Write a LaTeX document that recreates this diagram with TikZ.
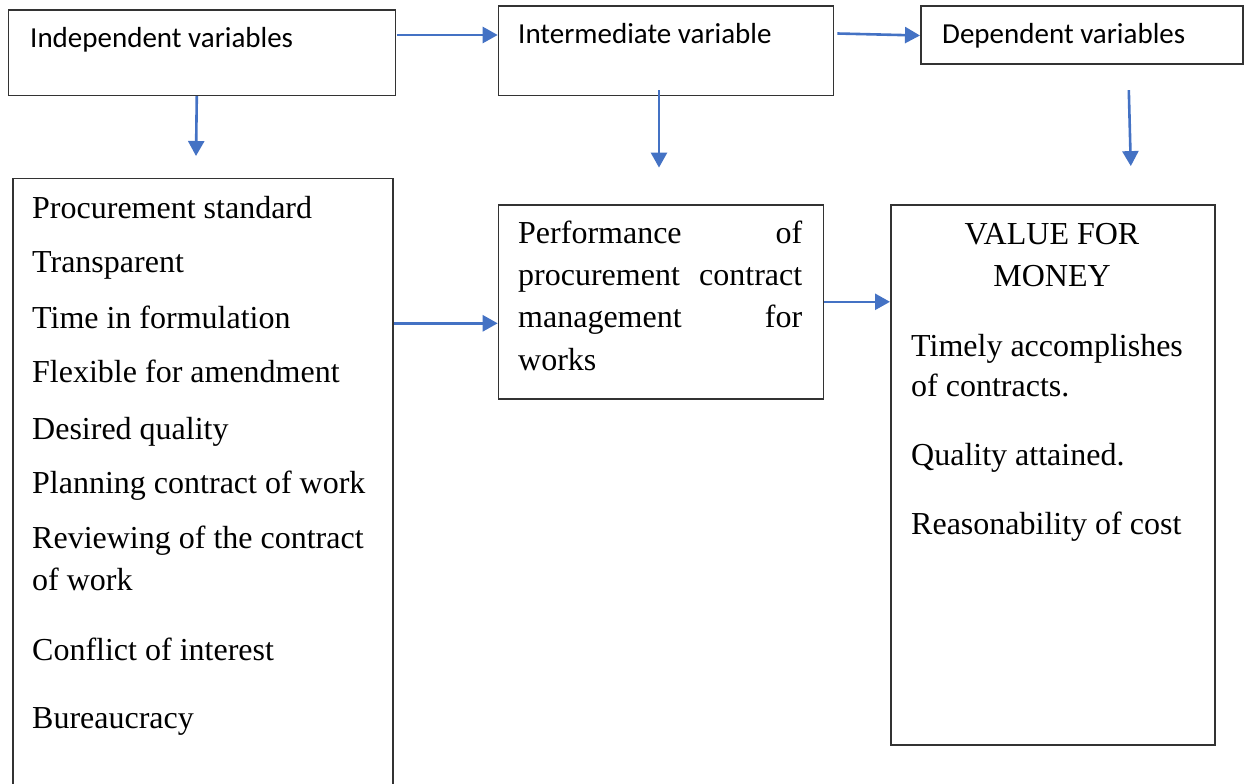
\documentclass[tikz,border=0pt]{standalone}
\usepackage{fontspec}
\setmainfont{Liberation Serif}
\newfontfamily\headfont{Carlito}
\usetikzlibrary{arrows.meta,positioning}
\definecolor{wordblue}{HTML}{4472C4}
\tikzset{
    x=1pt, y=-1pt,
    >={Triangle[length=15pt,width=16pt]},
    box/.style={draw=black!80, line width=1.6pt, inner sep=0pt, anchor=north west},
    head/.style={inner sep=0pt, anchor=base west, font=\headfont\fontsize{29}{34}\selectfont},
    item/.style={inner sep=0pt, anchor=base west, font=\fontsize{32}{38}\selectfont},
    arr/.style={->, draw=wordblue, line width=2.6pt},
}

\begin{document}
\begin{tikzpicture}
        \useasboundingbox (0,0) rectangle (1248,784);
        % top row
        \node[box, minimum width=387pt, minimum height=85pt] (indep) at (7.5,9.5) {};
        \node[box, minimum width=335pt, minimum height=89pt] (inter) at (497.7,5.5) {};
        \node[box, minimum width=322pt, minimum height=58pt] (dep) at (920,5.5) {};
        \node[head] (indeptxt) at (30,48) {Independent variables};
        \node[head] (intertxt) at (518,44) {Intermediate variable};
        \node[head] (deptxt) at (942,44) {Dependent variables};
        % lower row
        \node[box, minimum width=380pt, minimum height=640pt] (lst) at (12,177.5) {};
        \node[box, minimum width=325pt, minimum height=194pt] (perf) at (497.7,204) {};
        \node[box, minimum width=324pt, minimum height=540pt] (val) at (890,204) {};
        \foreach \yy/\lbl [count=\i] in {218/Procurement standard, 272/Transparent,
            328/Time in formulation, 382/Flexible for amendment, 439/Desired quality,
            493/Planning contract of work, 548/Reviewing of the contract, 590/of work,
            660/Conflict of interest, 728/Bureaucracy}
            \node[item] (li\i) at (32,\yy) {\lbl};
        \node[item] (pf1) at (518,243) {\hbox to 284pt{Performance\hfill of}};
        \node[item] (pf2) at (518,285) {\hbox to 284pt{procurement\hfill contract}};
        \node[item] (pf3) at (518,327) {\hbox to 284pt{management\hfill for}};
        \node[item] (pf4) at (518,370) {works};
        \node[item, anchor=base] (vfm1) at (1052,244) {VALUE FOR};
        \node[item, anchor=base] (vfm2) at (1052,286) {MONEY};
        \foreach \yy/\lbl [count=\i] in {356/Timely accomplishes, 396/of contracts.,
            465/Quality attained., 534/Reasonability of cost}
            \node[item] (vl\i) at (911,\yy) {\lbl};
        % connectors
        \coordinate (idown) at (196,156);
        \coordinate (pin) at ([yshift=-21.5pt]perf.west);
        \draw[arr] ([xshift=1pt,yshift=-25.5pt]indep.north east) -- ([yshift=-29.5pt]inter.north west);
        \draw[arr] ([xshift=3pt,yshift=-28pt]inter.north east) -- ([yshift=-30pt]dep.north west);
        \draw[arr] ([xshift=-5pt]indep.south) -- (idown);
        \draw[arr] ([xshift=-7pt,yshift=6pt]inter.south) -- ++(0,77.5);
        \draw[arr] ([xshift=47pt,yshift=-25pt]dep.south) -- ++(2,76);
        \draw[arr] (lst.east |- pin) -- (pin);
        \draw[arr] (perf.east) -- (perf.east -| val.west);
\end{tikzpicture}
\end{document}
